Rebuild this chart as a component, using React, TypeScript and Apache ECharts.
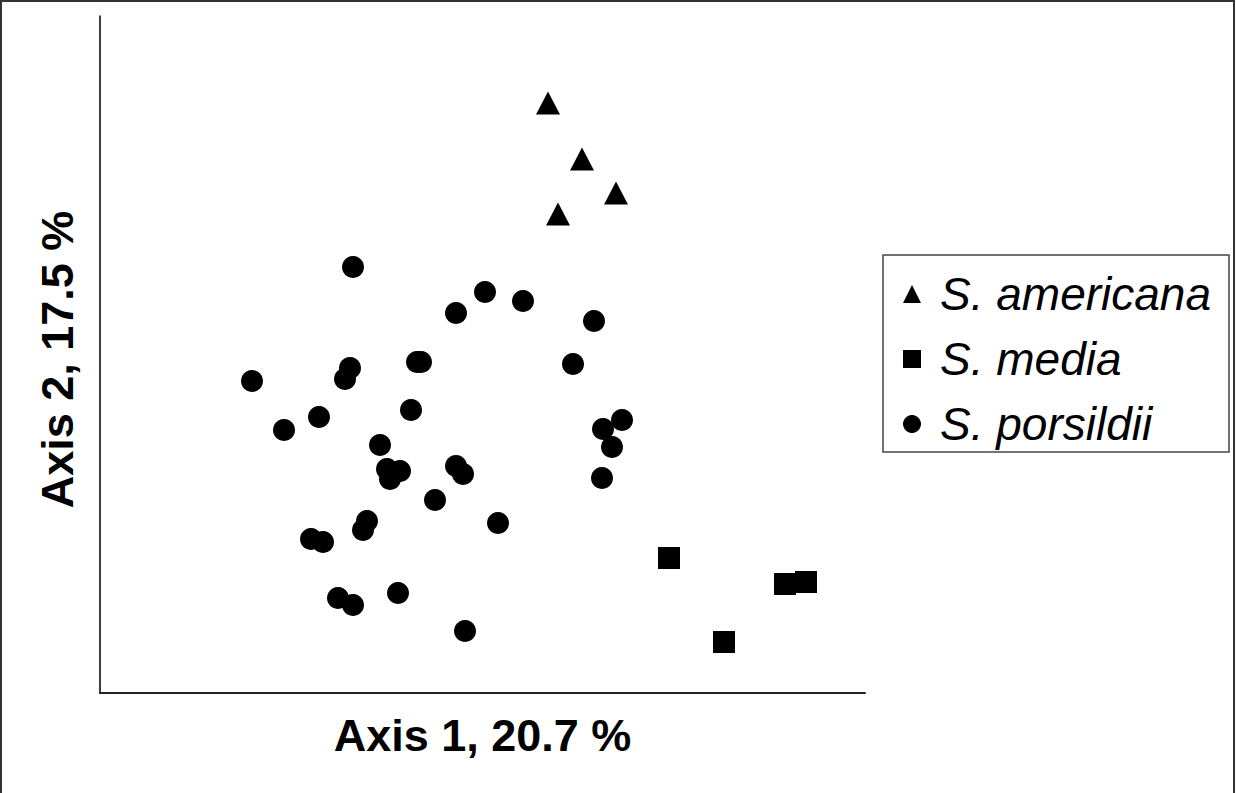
import React, { useEffect, useRef } from "react";
import * as echarts from "echarts";

// Ordination scores (arbitrary units: axis 1 spans 0..765, axis 2 spans 0..677)
const americanaX = [448, 482, 516, 458];
const americanaY = [590, 534, 500, 479];

const mediaX = [569, 685, 706, 624];
const mediaY = [135, 109, 111, 51];

const porsildiiX = [253, 385, 423, 356, 494, 317, 321, 250, 245, 152, 473, 311, 219, 522, 184, 503, 280, 512, 287, 300, 290, 356, 363, 502, 335, 398, 267, 263, 211, 223, 298, 238, 253, 365];
const porsildiiY = [426, 401, 392, 380, 372, 331, 331, 325, 314, 312, 329, 283, 276, 273, 263, 264, 248, 246, 224, 222, 214, 227, 219, 215, 193, 170, 172, 163, 154, 151, 100, 95, 88, 62];

const seriesNames = ["S. americana", "S. media", "S. porsildii"];

const zip = (xs: number[], ys: number[]) => xs.map((x, i) => [x, ys[i]]);

const FONT = "'Liberation Sans', Arial, Helvetica, sans-serif";

export default function App() {
  const ref = useRef<HTMLDivElement>(null);
  useEffect(() => {
    if (!ref.current) return;
    const chart = echarts.init(ref.current, undefined, { renderer: "svg" });
    chart.setOption({
      animation: false,
      backgroundColor: "#ffffff",
      grid: { left: 100, top: 16, width: 765, height: 677, containLabel: false },
      xAxis: {
        type: "value",
        min: 0,
        max: 765,
        name: "Axis 1, 20.7 %",
        nameLocation: "middle",
        nameGap: 20,
        nameTextStyle: { fontFamily: FONT, fontWeight: "bold", fontSize: 45, color: "#000", verticalAlign: "top" },
        axisLine: { show: true, lineStyle: { color: "#222", width: 2 } },
        axisTick: { show: false },
        axisLabel: { show: false },
        splitLine: { show: false },
      },
      yAxis: {
        type: "value",
        min: 0,
        max: 677,
        name: "Axis 2, 17.5 %",
        nameLocation: "middle",
        nameGap: 20,
        nameRotate: 90,
        nameTextStyle: { fontFamily: FONT, fontWeight: "bold", fontSize: 45, color: "#000", verticalAlign: "bottom", padding: [0, 10, 0, 0] },
        axisLine: { show: true, lineStyle: { color: "#000", width: 1.5 } },
        axisTick: { show: false },
        axisLabel: { show: false },
        splitLine: { show: false },
      },
      legend: {
        orient: "vertical",
        left: 903,
        top: 271,
        padding: 0,
        itemWidth: 18,
        itemHeight: 18,
        itemGap: 19,
        data: [
          { name: seriesNames[0], icon: "triangle" },
          { name: seriesNames[1], icon: "rect" },
          { name: seriesNames[2], icon: "circle" },
        ],
        textStyle: { fontFamily: FONT, fontStyle: "italic", fontSize: 46, lineHeight: 46, color: "#000", padding: [0, 0, 0, 14] },
        selectedMode: false,
      },
      graphic: [
        {
          type: "rect",
          shape: { x: 1, y: 1, width: 1233, height: 810 },
          style: { fill: "none", stroke: "#333", lineWidth: 2 },
          silent: true,
        },
        {
          type: "rect",
          shape: { x: 883, y: 255, width: 346, height: 197 },
          style: { fill: "none", stroke: "#444", lineWidth: 1.5 },
          silent: true,
        },
      ],
      series: [
        {
          name: seriesNames[0],
          type: "scatter",
          symbol: "triangle",
          symbolSize: [24, 23],
          itemStyle: { color: "#000", opacity: 1 },
          data: zip(americanaX, americanaY),
        },
        {
          name: seriesNames[1],
          type: "scatter",
          symbol: "rect",
          symbolSize: 22,
          itemStyle: { color: "#000", opacity: 1 },
          data: zip(mediaX, mediaY),
        },
        {
          name: seriesNames[2],
          type: "scatter",
          symbol: "circle",
          symbolSize: 22,
          itemStyle: { color: "#000", opacity: 1 },
          data: zip(porsildiiX, porsildiiY),
        },
      ],
    });
    return () => chart.dispose();
  }, []);
  return (
    <div
      ref={ref}
      style={{ position: "absolute", left: 0, top: 0, width: 1236, height: 793 }}
    />
  );
}
